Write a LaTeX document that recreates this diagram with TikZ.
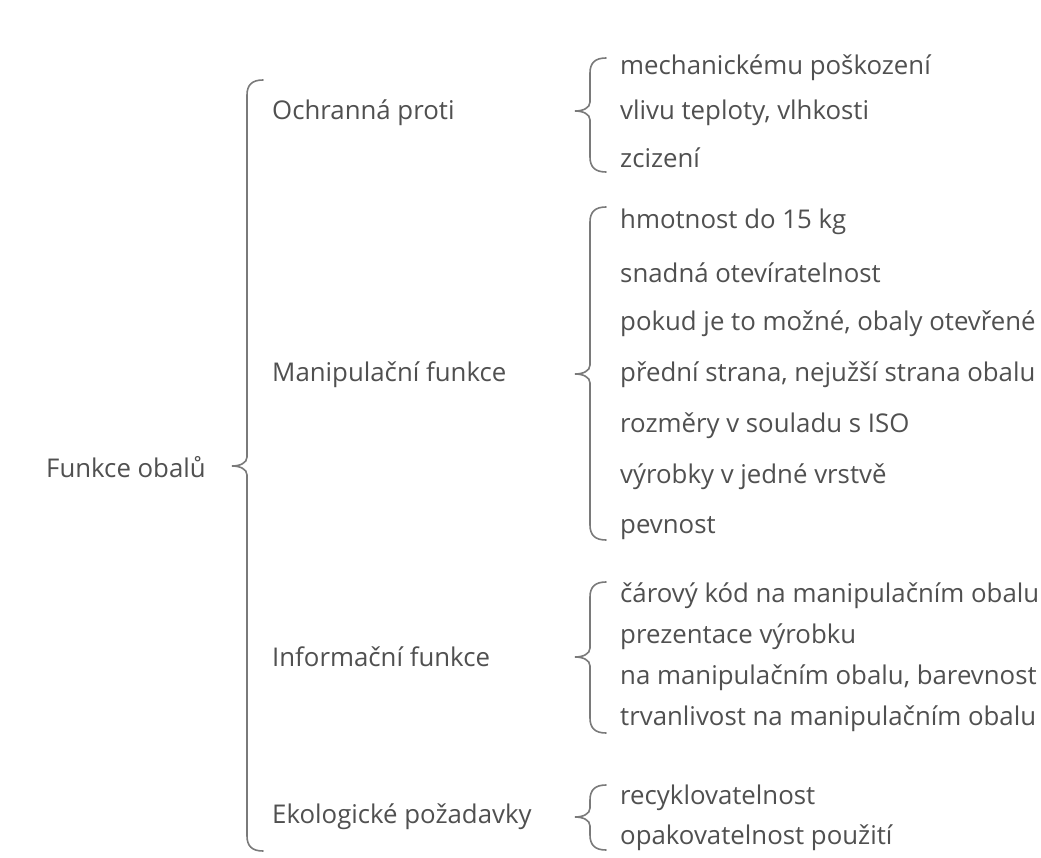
\documentclass[tikz,border=0pt]{standalone}
\usepackage{fontspec}
\setmainfont{Open Sans}
\definecolor{txt}{HTML}{505050}
\definecolor{brc}{HTML}{7A7A7A}
\newcommand\curly[4]{% x, top, tip, bottom
  \draw[bracestyle] ({#1+16},#2) .. controls ({#1+5},#2) and (#1,{#2+5}) .. (#1,{#2+15})
    -- (#1,{#3-9}) .. controls (#1,{#3-3}) and ({#1-7},#3) .. ({#1-15},#3)
    .. controls ({#1-7},#3) and (#1,{#3+3}) .. (#1,{#3+9})
    -- (#1,{#4-15}) .. controls (#1,{#4-5}) and ({#1+5},#4) .. ({#1+16},#4);}
\tikzset{
  bracestyle/.style={draw=brc, line width=1.6pt, line cap=round},
  lbl/.style={anchor=west, inner sep=0pt, text=txt, font=\fontsize{25.8}{30}\selectfont}
}
\begin{document}
\begin{tikzpicture}[x=1pt,y=-1pt]
\useasboundingbox[fill=white] (0,0) rectangle (1041,858);
\node[lbl] (root) at (46,467) {Funkce obalů};
\curly{247}{80}{466}{851}
\node[lbl] (ochr) at (272,113) {Ochranná proti};
\node[lbl] (mani) at (272,375) {Manipulační funkce};
\node[lbl] (info) at (272,657) {Informační funkce};
\node[lbl] (eko) at (272,817) {Ekologické požadavky};
\curly{590}{58}{111}{172}
\curly{590}{207}{374}{540}
\curly{590}{582}{657}{733}
\curly{590}{785}{817}{850}
\node[lbl] (o1) at (620,68) {mechanickému poškození};
\node[lbl] (o2) at (620,113) {vlivu teploty, vlhkosti};
\node[lbl] (o3) at (620,158) {zcizení};
\node[lbl] (m1) at (620,222) {hmotnost do 15 kg};
\node[lbl] (m2) at (620,273) {snadná otevíratelnost};
\node[lbl] (m3) at (620,324) {pokud je to možné, obaly otevřené};
\node[lbl] (m4) at (620,375) {přední strana, nejužší strana obalu};
\node[lbl] (m5) at (620,426) {rozměry v souladu s ISO};
\node[lbl] (m6) at (620,477) {výrobky v jedné vrstvě};
\node[lbl] (m7) at (620,528) {pevnost};
\node[lbl] (i1) at (620,596) {čárový kód na manipulačním obalu};
\node[lbl] (i2) at (620,637) {prezentace výrobku};
\node[lbl] (i3) at (620,678) {na manipulačním obalu, barevnost};
\node[lbl] (i4) at (620,719) {trvanlivost na manipulačním obalu};
\node[lbl] (e1) at (620,798) {recyklovatelnost};
\node[lbl] (e2) at (620,838) {opakovatelnost použití};
\end{tikzpicture}
\end{document}
